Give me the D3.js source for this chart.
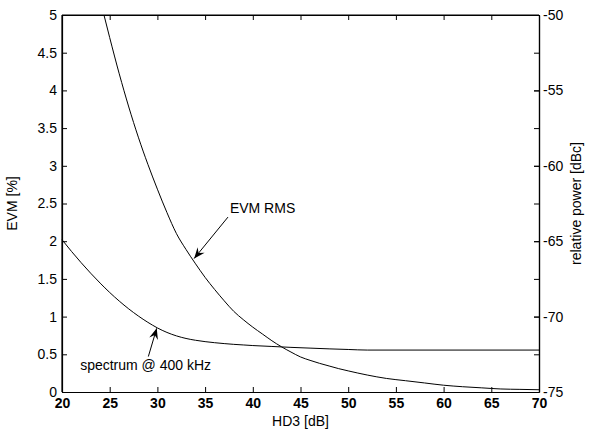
<!DOCTYPE html>
<html>
<head>
<meta charset="utf-8">
<script src="https://cdn.jsdelivr.net/npm/d3@7"></script>
<style>
body { margin: 0; background: #fff; }
svg { font-family: Arial, "Liberation Sans", sans-serif; }
</style>
</head>
<body>
<div id="chart"></div>
<script>

// HD3 [dB] vs EVM RMS [%] (left axis)
var evmHd3 = [24.4, 25, 26, 27, 28, 29, 30, 31, 32, 33, 34, 35, 36, 37, 38, 39, 40, 41, 42, 43, 44, 45, 46, 47, 48, 49, 50, 52, 54, 56, 58, 60, 62, 64, 66, 68, 70];
var evmRms = [5.0, 4.7, 4.22, 3.78, 3.38, 3.02, 2.69, 2.38, 2.10, 1.89, 1.70, 1.52, 1.36, 1.21, 1.07, 0.96, 0.86, 0.77, 0.68, 0.60, 0.53, 0.465, 0.42, 0.38, 0.345, 0.31, 0.28, 0.225, 0.18, 0.15, 0.12, 0.09, 0.07, 0.055, 0.04, 0.035, 0.03];

// HD3 [dB] vs spectrum @ 400 kHz [dBc] (right axis)
var specHd3 = [20, 21, 22, 23, 24, 25, 26, 27, 28, 29, 30, 31, 32, 33, 34, 35, 36, 37, 38, 39, 40, 42, 44, 46, 48, 50, 52, 70];
var specDbc = [-64.9, -65.68, -66.42, -67.12, -67.78, -68.4, -68.97, -69.49, -69.96, -70.38, -70.75, -71.05, -71.28, -71.45, -71.57, -71.66, -71.73, -71.79, -71.84, -71.88, -71.92, -71.98, -72.04, -72.09, -72.14, -72.18, -72.22, -72.22];

var xTicks = [20, 25, 30, 35, 40, 45, 50, 55, 60, 65, 70];
var yLeftTicks = [0, 0.5, 1, 1.5, 2, 2.5, 3, 3.5, 4, 4.5, 5];
var yRightTicks = [-75, -70, -65, -60, -55, -50];

var W = 589, H = 429;
var m = {top: 15, right: 50, bottom: 37, left: 62};
var iw = W - m.left - m.right, ih = H - m.top - m.bottom;
var fs = "14px";

var svg = d3.select("#chart")
	.append("svg")
	.attr("width", W)
	.attr("height", H);

svg.append("defs").append("marker")
	.attr("id", "arrow")
	.attr("viewBox", "-12 -6 14 12")
	.attr("refX", 0)
	.attr("refY", 0)
	.attr("markerWidth", 14)
	.attr("markerHeight", 12)
	.attr("markerUnits", "userSpaceOnUse")
	.attr("orient", "auto")
	.append("path")
	.attr("d", "M0,0 L-11,-4.5 L-7,0 L-11,4.5 Z")
	.attr("fill", "#000");

var g = svg.append("g").attr("transform", "translate(" + m.left + "," + m.top + ")");

var x = d3.scaleLinear().domain([20, 70]).range([0, iw]);
var yL = d3.scaleLinear().domain([0, 5]).range([ih, 0]);
var yR = d3.scaleLinear().domain([-75, -50]).range([ih, 0]);

var line = d3.line().curve(d3.curveMonotoneX).x(function(d) { return x(d[0]); });

g.append("path")
	.datum(d3.zip(evmHd3, evmRms))
	.attr("d", line.y(function(d) { return yL(d[1]); }))
	.attr("fill", "none")
	.attr("stroke", "#000")
	.attr("stroke-width", 1);

g.append("path")
	.datum(d3.zip(specHd3, specDbc))
	.attr("d", line.y(function(d) { return yR(d[1]); }))
	.attr("fill", "none")
	.attr("stroke", "#000")
	.attr("stroke-width", 1);

var plain = function(d) { return String(d); };

// axes, ticks pointing in like matlab
g.append("g").attr("class", "axis")
	.attr("transform", "translate(0," + ih + ")")
	.call(d3.axisBottom(x).tickValues(xTicks).tickSizeInner(-5).tickSizeOuter(0).tickPadding(6).tickFormat(plain));
g.append("g").attr("class", "axis")
	.call(d3.axisTop(x).tickValues(xTicks).tickSizeInner(-5).tickSizeOuter(0).tickFormat(""));
g.append("g").attr("class", "axis")
	.call(d3.axisLeft(yL).tickValues(yLeftTicks).tickSizeInner(-5).tickSizeOuter(0).tickPadding(5).tickFormat(plain));
g.append("g").attr("class", "axis")
	.attr("transform", "translate(" + iw + ",0)")
	.call(d3.axisRight(yL).tickValues(yLeftTicks).tickSizeInner(-5).tickSizeOuter(0).tickFormat(""));
g.append("g").attr("class", "axis")
	.attr("transform", "translate(" + iw + ",0)")
	.call(d3.axisRight(yR).tickValues(yRightTicks).tickSizeInner(-5).tickSizeOuter(0).tickPadding(4).tickFormat(plain));

g.selectAll(".axis path").attr("stroke", "#000").attr("stroke-width", 1.2);
g.selectAll(".axis line").attr("stroke", "#000");
g.selectAll(".axis text").attr("fill", "#000").style("font-size", fs).style("font-family", "Arial, 'Liberation Sans', sans-serif");
g.select(".axis").selectAll("text").style("font-weight", "bold");

// box edges
g.append("line").attr("x1", 0).attr("x2", iw).attr("y1", 0).attr("y2", 0).attr("stroke", "#000").attr("stroke-width", 1.2);
g.append("line").attr("x1", 0).attr("x2", 0).attr("y1", 0).attr("y2", ih).attr("stroke", "#000").attr("stroke-width", 1.2);

// labels
g.append("text")
	.attr("x", iw / 2)
	.attr("y", ih + 34)
	.attr("text-anchor", "middle")
	.style("font-size", fs)
	.text("HD3 [dB]");

g.append("text")
	.attr("transform", "translate(" + (-45) + "," + (ih / 2) + ") rotate(-90)")
	.attr("text-anchor", "middle")
	.style("font-size", fs)
	.text("EVM [%]");

g.append("text")
	.attr("transform", "translate(" + (iw + 42) + "," + (ih / 2) + ") rotate(-90)")
	.attr("text-anchor", "middle")
	.style("font-size", fs)
	.text("relative power [dBc]");

// annotations: text anchor point, arrow tail, arrow tip (data coords, left axis)
var notes = [
	{label: "EVM RMS", tx: 37.6, ty: 2.37, x0: 37.4, y0: 2.32, x1: 33.85, y1: 1.77},
	{label: "spectrum @ 400 kHz", tx: 21.9, ty: 0.29, x0: 29.05, y0: 0.47, x1: 29.93, y1: 0.845}
];

notes.forEach(function(n) {
	g.append("line")
		.attr("x1", x(n.x0)).attr("y1", yL(n.y0))
		.attr("x2", x(n.x1)).attr("y2", yL(n.y1))
		.attr("stroke", "#000")
		.attr("stroke-width", 1)
		.attr("marker-end", "url(#arrow)");
	g.append("text")
		.attr("x", x(n.tx))
		.attr("y", yL(n.ty))
		.style("font-size", fs)
		.text(n.label);
});

</script>
</body>
</html>
